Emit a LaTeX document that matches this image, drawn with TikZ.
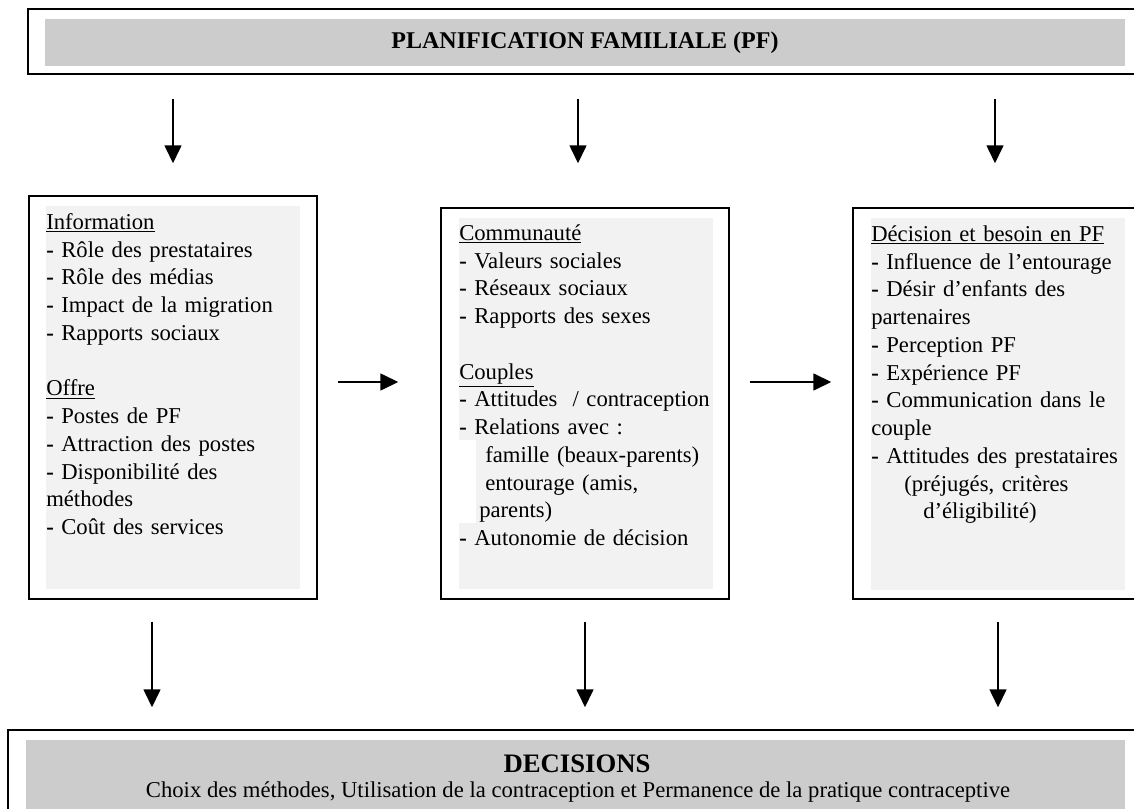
\documentclass[tikz,border=0pt]{standalone}
\usepackage{fontspec}
\setmainfont{Liberation Serif}
\usetikzlibrary{arrows.meta,fit}

\definecolor{bandgray}{HTML}{CCCCCC}
\definecolor{panelgray}{HTML}{F2F2F2}

\tikzset{
  frame/.style={draw=black, line width=1.1pt, inner sep=0pt},
  band/.style={fill=bandgray, inner sep=0pt},
  panel/.style={fill=panelgray, inner sep=0pt},
  arr/.style={line width=1.2pt, -{Triangle[length=13.5pt,width=12.75pt]}},
  txt/.style={anchor=base west, inner sep=0pt, align=left, text width=250pt,
    font=\fontsize{17}{20.8}\selectfont},
}

\begin{document}
\begin{tikzpicture}[x=0.75pt,y=-0.75pt]

\clip (0,0) rectangle (1134,809);

% Top band
\node[frame, fit={(28,9) (1150,74)}] (pf) {};
\node[band, fit={(45,19) (1125,66)}] (pfbg) {};
\node[font=\bfseries\fontsize{18}{22}\selectfont] (pftxt) at (pfbg) {PLANIFICATION FAMILIALE (PF)};

% Left box
\node[frame, fit={(29,196) (317,599)}] (info) {};
\node[panel, fit={(46,206) (300,589)}] (infobg) {};
\node[txt] (infotxt) at (46,229.5) {\underline{Information}\\
\textbf{-} Rôle des prestataires\\
\textbf{-} Rôle des médias\\
\textbf{-} Impact de la migration\\
\textbf{-} Rapports sociaux\\[20.8pt]
\underline{Offre}\\
\textbf{-} Postes de PF\\
\textbf{-} Attraction des postes\\
\textbf{-} Disponibilité des\\
méthodes\\
\textbf{-} Coût des services};

% Middle box
\node[frame, fit={(441,208) (729,599)}] (comm) {};
\node[panel, fit={(459,218) (713,589)}] (commbg) {};
\fill[white] (459,440) rectangle (476,523);
\node[txt] (commtxt) at (459,240.5) {\underline{Communauté}\\
\textbf{-} Valeurs sociales\\
\textbf{-} Réseaux sociaux\\
\textbf{-} Rapports des sexes\\[20.8pt]
\underline{Couples}\\
\textbf{-} Attitudes\ \ / contraception\\
\textbf{-} Relations avec :\\
\hspace*{19.5pt}famille (beaux-parents)\\
\hspace*{19.5pt}entourage (amis,\\
\hspace*{15pt}parents)\\
\textbf{-} Autonomie de décision};

% Right box
\node[frame, fit={(853,208) (1150,599)}] (dec) {};
\node[panel, fit={(871,218) (1125,590)}] (decbg) {};
\node[txt] (dectxt) at (871,241.5) {\underline{Décision et besoin en PF}\\
\textbf{-} Influence de l’entourage\\
\textbf{-} Désir d’enfants des\\
partenaires\\
\textbf{-} Perception PF\\
\textbf{-} Expérience PF\\
\textbf{-} Communication dans le\\
couple\\
\textbf{-} Attitudes des prestataires\\
\hspace*{24.75pt}(préjugés, critères\\
\hspace*{39pt}d’éligibilité)};

% Bottom band
\node[frame, fit={(8,730) (1150,830)}] (choix) {};
\node[band, fit={(26,740) (1125,812)}] (choixbg) {};
\node[anchor=base, font=\bfseries\fontsize{20}{24}\selectfont] (choixhd) at (577,772) {DECISIONS};
\node[anchor=base, font=\fontsize{17}{20}\selectfont] (choixtxt) at (578,797.7) {Choix des méthodes, Utilisation de la contraception et Permanence de la pratique contraceptive};

% Arrows down from the top band
\foreach \x/\b/\s in {173/info/24pt, 578/comm/33pt, 995/dec/33pt}
  \draw[arr, shorten <=18pt, shorten >=\s] (pf.south -| \x,0) -- (\b.north -| \x,0);

% Arrows between the boxes
\draw[arr, shorten <=15pt, shorten >=31.5pt] (info.east |- 0,382) -- (comm.west |- 0,382);
\draw[arr, shorten <=15pt, shorten >=15.75pt] (comm.east |- 0,382) -- (dec.west |- 0,382);

% Arrows down to the bottom band
\foreach \x/\b in {152/info, 585/comm, 998/dec}
  \draw[arr, shorten <=16.5pt, shorten >=16.5pt] (\b.south -| \x,0) -- (choix.north -| \x,0);

\end{tikzpicture}
\end{document}
